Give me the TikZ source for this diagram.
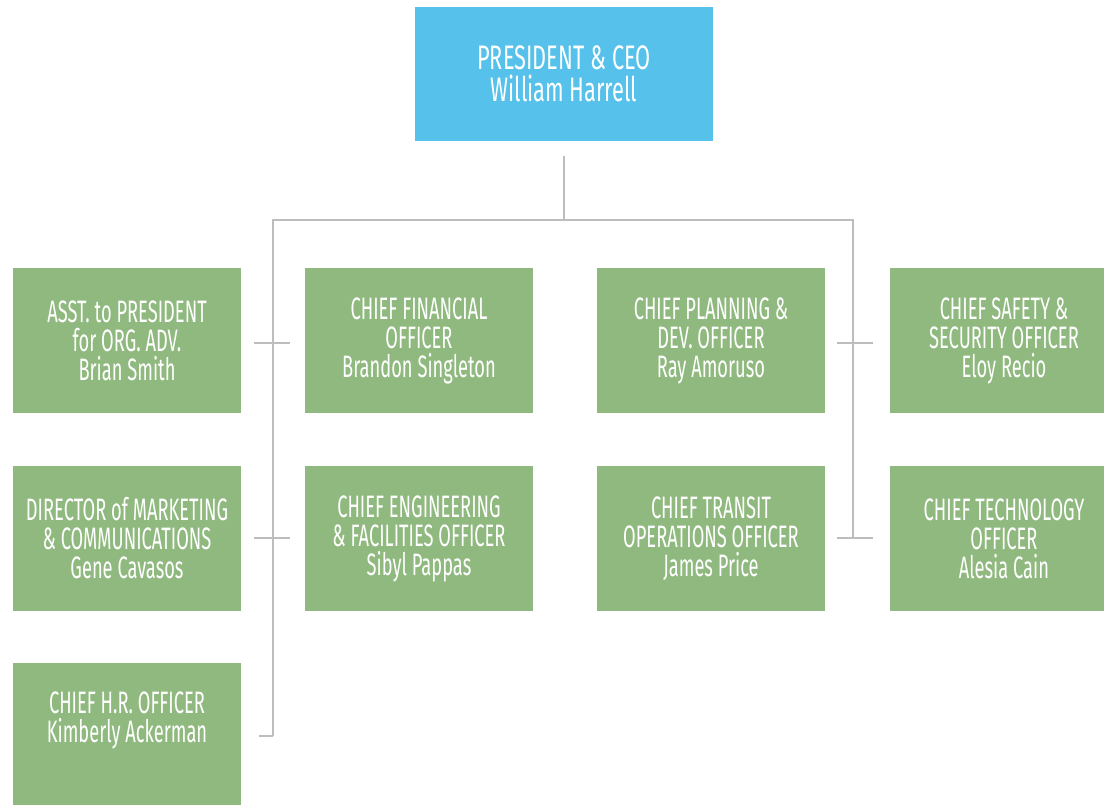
\documentclass[tikz,border=0pt]{standalone}
\usepackage{fontspec}
\setmainfont{Fira Sans}[FakeStretch=0.59]
\newfontfamily\ceofont{Fira Sans}[FakeStretch=0.64]
\definecolor{ceoblue}{HTML}{56C1EA}
\definecolor{boxgreen}{HTML}{8FB97E}
\definecolor{linegray}{HTML}{BDBDBD}
\begin{document}
\begin{tikzpicture}[x=1pt,y=-1pt,
  orgbox/.style={fill=boxgreen,draw=none,minimum width=228pt,minimum height=145pt,
    text=white,align=center,inner sep=0pt,font=\fontsize{31}{29}\selectfont},
  ceobox/.style={orgbox,fill=ceoblue,minimum width=298pt,minimum height=134pt,
    font=\ceofont\fontsize{34}{32}\selectfont},
  conn/.style={draw=linegray,line width=1.4pt}]
\useasboundingbox (0,0) rectangle (1104,805);
\node[ceobox] (ceo) at (564,74) {PRESIDENT \& CEO\\William Harrell};
% row 1
\node[orgbox] (asst) at (127,340.5) {ASST. to PRESIDENT\\for ORG. ADV.\\Brian Smith};
\node[orgbox] (cfo) at (419,340.5) {CHIEF FINANCIAL\\OFFICER\\Brandon Singleton};
\node[orgbox] (cpd) at (711,340.5) {CHIEF PLANNING \&\\DEV. OFFICER\\Ray Amoruso};
\node[orgbox] (css) at (1004,340.5) {CHIEF SAFETY \&\\SECURITY OFFICER\\Eloy Recio};
% row 2
\node[orgbox] (dmc) at (127,538.5) {DIRECTOR of MARKETING\\\& COMMUNICATIONS\\Gene Cavasos};
\node[orgbox] (cef) at (419,538.5) {CHIEF ENGINEERING\\\& FACILITIES OFFICER\\Sibyl Pappas};
\node[orgbox] (cto) at (711,538.5) {CHIEF TRANSIT\\OPERATIONS OFFICER\\James Price};
\node[orgbox] (ctech) at (1004,538.5) {CHIEF TECHNOLOGY\\OFFICER\\Alesia Cain};
% row 3
\node[orgbox] (hr) at (127,735.5) {CHIEF H.R. OFFICER\\Kimberly Ackerman\\\strut};
% connector coordinates
\coordinate (top) at (564,156);
\coordinate (mid) at (564,220);
\coordinate (lt) at (273,220);
\coordinate (rt) at (853,220);
\coordinate (lb) at (273,736);
\coordinate (rb) at (853,538);
\coordinate (l1a) at (254,343); \coordinate (l1b) at (290,343);
\coordinate (l2a) at (254,538); \coordinate (l2b) at (290,538);
\coordinate (r1a) at (837,343); \coordinate (r1b) at (873,343);
\coordinate (r2a) at (837,538); \coordinate (r2b) at (873,538);
\coordinate (l3a) at (259,736);
\draw[conn] (top) -- (mid);
\draw[conn] (lb) -- (lt) -- (rt) -- (rb);
\draw[conn] (l3a) -- (lb);
\draw[conn] (l1a) -- (l1b);
\draw[conn] (l2a) -- (l2b);
\draw[conn] (r1a) -- (r1b);
\draw[conn] (r2a) -- (r2b);
\end{tikzpicture}
\end{document}
